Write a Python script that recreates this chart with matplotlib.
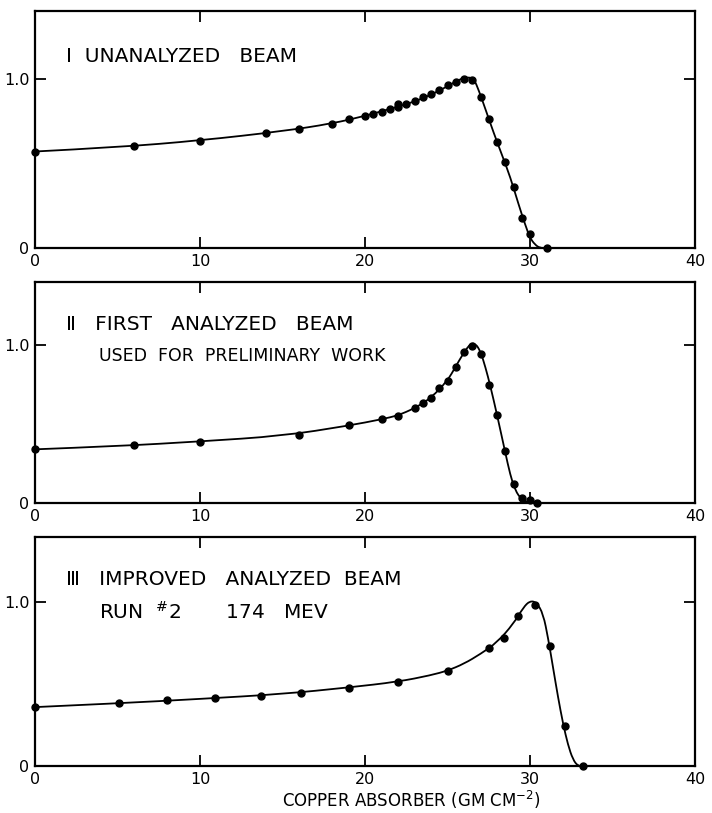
import matplotlib
matplotlib.use("Agg")
import matplotlib.pyplot as plt
from matplotlib.path import Path
from matplotlib.patches import PathPatch

# measured points (copper absorber gm/cm2, relative intensity)
x1 = [0, 6, 10, 14, 16, 18, 19, 20, 20.5, 21, 21.5, 22, 22, 22.5, 23, 23.5, 24,
      24.5, 25, 25.5, 26, 26.5, 27, 27.5, 28, 28.5, 29, 29.5, 30, 31]
y1 = [0.57, 0.60, 0.635, 0.68, 0.705, 0.735, 0.76, 0.78, 0.79, 0.805, 0.82, 0.85,
      0.83, 0.85, 0.87, 0.89, 0.91, 0.935, 0.96, 0.98, 1.0, 0.99, 0.89, 0.76,
      0.625, 0.51, 0.36, 0.18, 0.085, 0.0]

x2 = [0, 6, 10, 16, 19, 21, 22, 23, 23.5, 24, 24.5, 25, 25.5, 26, 26.5, 27, 27.5,
      28, 28.5, 29, 29.5, 30, 30.4]
y2 = [0.34, 0.365, 0.387, 0.43, 0.492, 0.529, 0.552, 0.60, 0.632, 0.665, 0.727,
      0.772, 0.863, 0.954, 0.995, 0.944, 0.75, 0.56, 0.328, 0.122, 0.034, 0.018, 0.0]

x3 = [0, 5.1, 8.0, 10.9, 13.7, 16.1, 19.0, 22.0, 25.0, 27.5, 28.4, 29.3, 30.3,
      31.2, 32.1, 33.2]
y3 = [0.36, 0.384, 0.402, 0.414, 0.43, 0.448, 0.479, 0.514, 0.583, 0.72, 0.784,
      0.915, 0.985, 0.733, 0.247, 0.0]

# hand drawn smooth curves (knots)
cx1 = [0, 5, 10, 15, 18, 20, 22, 23, 24, 25, 25.7, 26.2, 26.6, 26.9, 27.3, 27.8,
       28.3, 28.8, 29.3, 29.7, 30.0, 30.3, 30.6, 31.0]
cy1 = [0.57, 0.595, 0.635, 0.69, 0.735, 0.78, 0.835, 0.865, 0.905, 0.955, 0.995,
       1.01, 1.0, 0.93, 0.82, 0.68, 0.55, 0.42, 0.26, 0.14, 0.06, 0.02, 0.0, 0.0]

cx2 = [0, 5, 10, 15, 19, 21, 22, 23, 24, 25, 25.5, 26, 26.4, 26.7, 27.0, 27.3,
       27.6, 28, 28.5, 28.8, 29.1, 29.5, 30, 30.4]
cy2 = [0.34, 0.36, 0.39, 0.425, 0.49, 0.53, 0.555, 0.6, 0.665, 0.775, 0.865, 0.955,
       1.01, 1.01, 0.96, 0.86, 0.74, 0.56, 0.32, 0.18, 0.08, 0.02, 0.0, 0.0]

cx3 = [0, 5, 10, 15, 19, 22, 24, 25, 26, 27, 28, 29, 29.6, 30.0, 30.4, 30.8, 31.1,
       31.4, 31.7, 32.0, 32.3, 32.6, 32.9, 33.2]
cy3 = [0.36, 0.383, 0.41, 0.44, 0.48, 0.515, 0.555, 0.583, 0.625, 0.685, 0.755,
       0.87, 0.97, 1.01, 1.0, 0.93, 0.78, 0.6, 0.42, 0.26, 0.13, 0.04, 0.0, 0.0]

panels = [
    (x1, y1, cx1, cy1, [(1.9, 1.13, "\u2160  UNANALYZED   BEAM", 14.5)]),
    (x2, y2, cx2, cy2, [(1.9, 1.13, "\u2161   FIRST   ANALYZED   BEAM", 14.5),
                        (3.9, 0.93, "USED  FOR  PRELIMINARY  WORK", 12.5)]),
    (x3, y3, cx3, cy3, [(1.9, 1.14, "\u2162   IMPROVED   ANALYZED  BEAM", 14.5),
                        (3.9, 0.94, "RUN  $^{\\#}$2       174   MEV", 14.5)]),
]

# axes boxes in pixels: (top, bottom)
boxes = [(11, 248), (282, 503), (537, 766)]

plt.rcParams['font.family'] = ['DejaVu Sans']
fig = plt.figure(figsize=(7.12, 8.13), dpi=100)


def smooth(xs, ys):
    pts = list(zip(xs, ys))
    verts = [pts[0]]
    codes = [Path.MOVETO]
    for i in range(1, len(pts) - 1):
        mid = ((pts[i][0] + pts[i + 1][0]) / 2, (pts[i][1] + pts[i + 1][1]) / 2)
        verts += [pts[i], mid]
        codes += [Path.CURVE3, Path.CURVE3]
    verts.append(pts[-1])
    codes.append(Path.LINETO)
    return Path(verts, codes)


for (xs, ys, cxs, cys, labels), (top, bot) in zip(panels, boxes):
    ax = fig.add_axes([35 / 712, 1 - bot / 813, 660 / 712, (bot - top) / 813])
    ax.add_patch(PathPatch(smooth(cxs, cys), fill=False, lw=1.3, color='black'))
    ax.plot(xs, ys, 'o', color='black', ms=5, clip_on=False)
    ax.set_xlim(0, 40)
    ax.set_ylim(0, 1.4)
    ax.set_xticks([0, 10, 20, 30, 40])
    ax.set_yticks([0, 1.0])
    ax.set_yticklabels(['0', '1.0'])
    ax.tick_params(direction='in', length=8, width=1.3, top=True, right=True,
                   labelsize=11.5, pad=4)
    for s in ax.spines.values():
        s.set_linewidth(1.6)
    for x, y, t, fs in labels:
        ax.text(x, y, t, fontsize=fs, va='center', ha='left')

ax.set_xlabel("COPPER ABSORBER (GM CM$^{-2}$)", fontsize=12, labelpad=2)
ax.xaxis.label.set_x(0.57)

fig.savefig("out.png", dpi=100)
